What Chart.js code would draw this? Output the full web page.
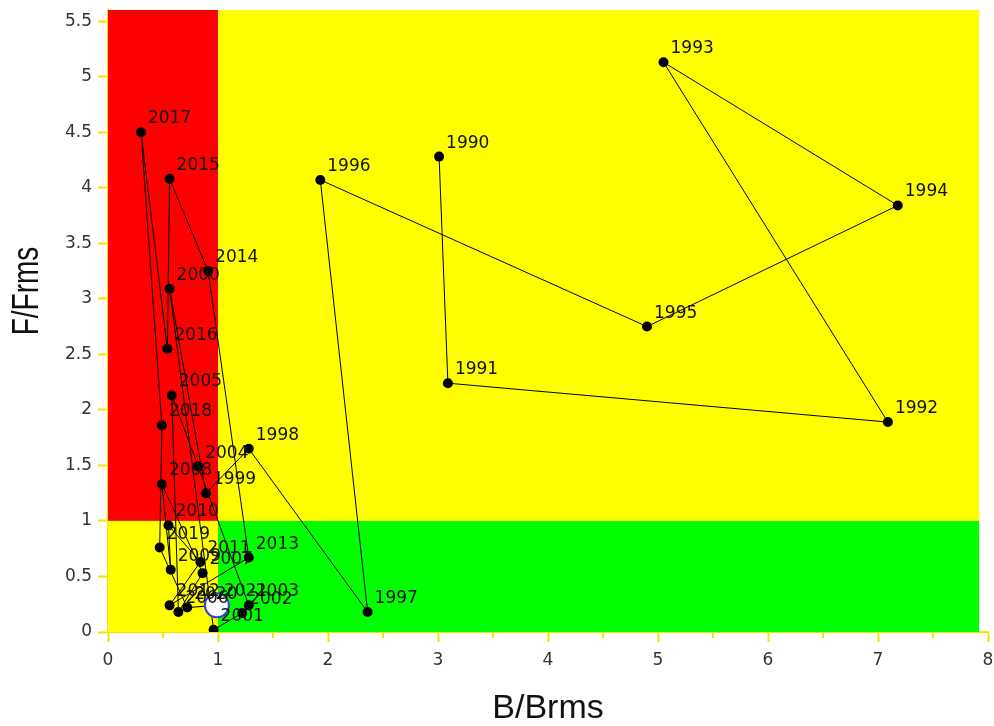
<!DOCTYPE html>
<html>
<head>
<meta charset="utf-8">
<script src="https://cdn.jsdelivr.net/npm/chart.js@4.4.1/dist/chart.umd.min.js"></script>
<style>
  html, body { margin: 0; padding: 0; background: #fff; }
</style>
</head>
<body>
<canvas id="canvas" width="994" height="726"></canvas>
<script>
// values
const years = [1990, 1991, 1992, 1993, 1994, 1995, 1996, 1997, 1998, 1999,
               2000, 2001, 2002, 2003, 2004, 2005, 2006, 2007, 2008, 2009,
               2010, 2011, 2012, 2013, 2014, 2015, 2016, 2017, 2018, 2019,
               2020, 2021];
const bRatio = [3.01, 3.09, 7.09, 5.05, 7.18, 4.90, 1.93, 2.36, 1.28, 0.89,
                0.56, 0.96, 1.22, 1.28, 0.82, 0.58, 0.64, 0.86, 0.49, 0.57,
                0.55, 0.84, 0.56, 1.28, 0.91, 0.56, 0.54, 0.30, 0.49, 0.47,
                0.72, 0.99];
const fRatio = [4.28, 2.24, 1.89, 5.13, 3.84, 2.75, 4.07, 0.18, 1.65, 1.25,
                3.09, 0.02, 0.17, 0.24, 1.49, 2.13, 0.18, 0.53, 1.33, 0.56,
                0.96, 0.63, 0.24, 0.67, 3.25, 4.08, 2.55, 4.50, 1.86, 0.76,
                0.22, 0.24];
const refLevel = 1;      // B/Brms = 1 and F/Frms = 1 split the zones
const zoneEndB = 7.92;   // zones stop a little before the axis end
const xMax = 8;
const yMax = 5.6;

const axisYellow = '#f2e600';

const points = years.map((y, i) => ({ x: bRatio[i], y: fRatio[i] }));
const last = points[points.length - 1];

const zones = {
  id: 'zones',
  beforeDatasetsDraw(chart) {
    const { ctx, scales: { x, y } } = chart;
    const x0 = x.getPixelForValue(0), x1 = x.getPixelForValue(refLevel), x2 = x.getPixelForValue(zoneEndB);
    const y0 = y.getPixelForValue(0), y1 = y.getPixelForValue(refLevel), y2 = y.getPixelForValue(yMax);
    ctx.save();
    ctx.fillStyle = '#ff0000';
    ctx.fillRect(x0, y2, x1 - x0, y1 - y2);
    ctx.fillStyle = '#ffff00';
    ctx.fillRect(x1, y2, x2 - x1, y1 - y2);
    ctx.fillRect(x0, y1, x1 - x0, y0 - y1);
    ctx.fillStyle = '#00ff00';
    ctx.fillRect(x1, y1, x2 - x1, y0 - y1);
    ctx.restore();
  }
};

// half-step ticks on the B axis are shorter than the whole ones
const minorTicks = {
  id: 'minorTicks',
  afterDraw(chart) {
    const { ctx, scales: { x } } = chart;
    ctx.save();
    ctx.strokeStyle = axisYellow;
    ctx.lineWidth = 2;
    x.ticks.forEach((t) => {
      if (Number.isInteger(t.value)) return;
      const px = Math.round(x.getPixelForValue(t.value));
      ctx.beginPath();
      ctx.moveTo(px, x.top);
      ctx.lineTo(px, x.top + 6);
      ctx.stroke();
    });
    ctx.restore();
  }
};

const yearLabels = {
  id: 'yearLabels',
  afterDatasetsDraw(chart) {
    const { ctx } = chart;
    const meta = chart.getDatasetMeta(1);
    ctx.save();
    ctx.font = '17px "DejaVu Sans"';
    ctx.fillStyle = '#111';
    ctx.textAlign = 'left';
    ctx.textBaseline = 'alphabetic';
    meta.data.forEach((pt, i) => {
      ctx.fillText(String(years[i]), pt.x + 7, pt.y - 9);
    });
    ctx.restore();
  }
};

const yTitle = {
  id: 'yTitle',
  afterDraw(chart) {
    const { ctx } = chart;
    ctx.save();
    ctx.translate(28, 291);
    ctx.rotate(-Math.PI / 2);
    ctx.scale(1, 1.3);
    ctx.font = '28px "Liberation Sans", Arial, sans-serif';
    ctx.fillStyle = '#111';
    ctx.textAlign = 'center';
    ctx.textBaseline = 'middle';
    ctx.fillText('F/Frms', 0, 0);
    ctx.restore();
  }
};

const ctx = document.getElementById('canvas').getContext('2d');
const myChart = new Chart(ctx, {
  type: 'scatter',
  data: {
    datasets: [{
      label: 'latest',
      data: [last],
      pointRadius: 12,
      pointBorderWidth: 2,
      pointBorderColor: '#3040d0',
      pointBackgroundColor: '#ffffff',
      order: 0
    }, {
      label: 'F/Frms vs B/Brms',
      data: points,
      showLine: true,
      borderColor: '#000',
      borderWidth: 1,
      pointRadius: 5,
      pointBorderWidth: 0,
      pointBackgroundColor: '#000',
      order: 1
    }]
  },
  options: {
    responsive: false,
    animation: false,
    devicePixelRatio: 1,
    layout: { autoPadding: false, padding: { top: 10, right: 6, left: 0, bottom: 0 } },
    plugins: {
      legend: { display: false },
      tooltip: { enabled: false }
    },
    scales: {
      x: {
        type: 'linear',
        min: 0,
        max: xMax,
        afterFit: (scale) => {
          scale.height = 94;
          scale.paddingLeft = 0;
          scale.paddingRight = 0;
        },
        ticks: {
          stepSize: 0.5,
          autoSkip: false,
          maxRotation: 0,
          padding: 8,
          color: '#333',
          font: { family: 'DejaVu Sans', size: 17 },
          callback: (v) => Number.isInteger(v) ? String(v) : ''
        },
        grid: {
          drawOnChartArea: false,
          tickLength: 10,
          tickWidth: 2,
          tickColor: (c) => Number.isInteger(c.tick.value) ? axisYellow : 'rgba(0,0,0,0)',
          color: axisYellow
        },
        border: { color: axisYellow, width: 2 },
        title: {
          display: true,
          text: 'B/Brms',
          color: '#111',
          font: { family: 'Liberation Sans', size: 34, lineHeight: 1 },
          padding: { top: 0, bottom: 0 }
        }
      },
      y: {
        type: 'linear',
        min: 0,
        max: yMax,
        afterFit: (scale) => {
          scale.width = 108;
          scale.paddingTop = 0;
          scale.paddingBottom = 0;
        },
        ticks: {
          stepSize: 0.5,
          includeBounds: false,
          padding: 6,
          color: '#333',
          font: { family: 'DejaVu Sans', size: 17 },
          callback: (v) => String(v)
        },
        grid: { drawOnChartArea: false, tickLength: 10, tickWidth: 2, color: axisYellow },
        border: { color: axisYellow, width: 2 }
      }
    }
  },
  plugins: [zones, minorTicks, yearLabels, yTitle]
});
</script>
</body>
</html>
